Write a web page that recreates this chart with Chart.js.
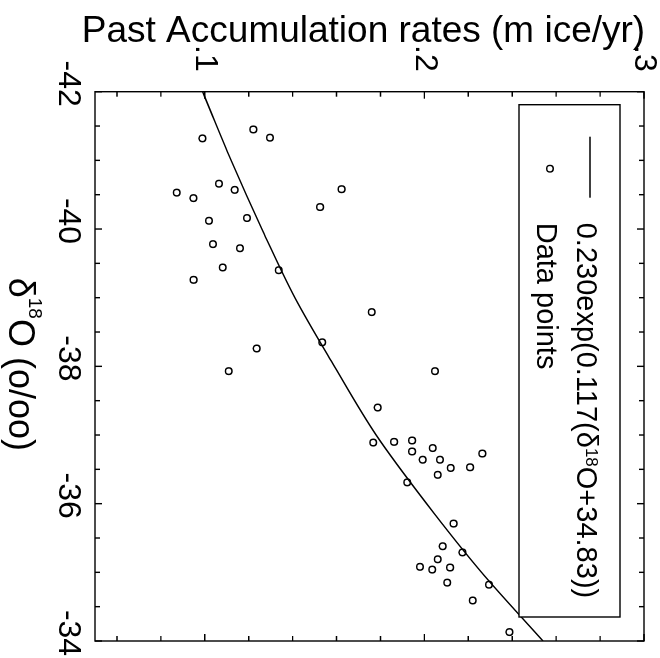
<!DOCTYPE html>
<html>
<head>
<meta charset="utf-8">
<script src="https://cdn.jsdelivr.net/npm/chart.js@4.4.1/dist/chart.umd.min.js"></script>
<style>
  html, body { margin: 0; padding: 0; background: #fff; overflow: hidden; }
  /* the plot is drawn upright and then turned a quarter turn clockwise */
  #wrap { position: absolute; left: 0; top: 0; width: 658px; height: 660px;
          transform-origin: 0 0; transform: translate(660px, 0) rotate(90deg); }
  canvas { display: block; }
</style>
</head>
<body>
<div id="wrap"><canvas id="chart" width="658" height="660"></canvas></div>
<script>
// measured points: d18O (o/oo) and accumulation (m ice/yr)
const d18O = [-41.32, -41.45, -41.33, -40.66, -40.57, -40.53, -40.45, -40.58, -40.32, -40.12,
  -40.16, -39.78, -39.72, -39.44, -39.26, -39.40, -38.79, -38.35, -37.93, -37.40,
  -36.89, -36.90, -36.92, -36.76, -36.81, -36.73, -36.64, -36.64, -36.52, -36.53,
  -36.42, -38.26, -37.93, -36.31, -35.71, -35.38, -35.29, -35.19, -35.08, -35.04,
  -35.07, -34.85, -34.82, -34.59, -34.13, -34.84];
const accum = [0.0989, 0.1221, 0.1297, 0.1065, 0.1136, 0.0872, 0.0948, 0.1623, 0.1525, 0.1019,
  0.1192, 0.1037, 0.1160, 0.1082, 0.0949, 0.1337, 0.1760, 0.1535, 0.2048, 0.1787,
  0.1767, 0.1862, 0.1944, 0.1944, 0.2038, 0.2264, 0.1992, 0.2071, 0.2120, 0.2208,
  0.2061, 0.1236, 0.1109, 0.1922, 0.2133, 0.2083, 0.2173, 0.2061, 0.1980, 0.2036,
  0.2117, 0.2104, 0.2294, 0.2220, 0.2387, 0.2449];

// fitted curve at whole per-mil steps
const fitD18O = [-42, -41, -40, -39, -38, -37, -36, -35, -34];
const fitAccum = [0.099, 0.112, 0.126, 0.141, 0.159, 0.178, 0.201, 0.226, 0.254];

// labelled ticks
const xLabelValues = [-42, -40, -38, -36, -34];
const yLabelValues = [0.1, 0.2, 0.3];
const yLabelText = ['.1', '.2', '.3'];

const yTitle = 'Past Accumulation rates (m ice/yr)';

const FONT = "'Liberation Sans', Arial, Helvetica, sans-serif";

function findLabel(values, v) {
  return values.findIndex(l => Math.abs(l - v) < 1e-6);
}

// draws text made of pieces, some of them raised (superscripts)
function drawParts(ctx, x, y, parts, align) {
  let total = 0;
  parts.forEach(p => {
    ctx.font = p.size + 'px ' + FONT;
    p.w = ctx.measureText(p.t).width;
    total += p.w;
  });
  if (align === 'center') x -= total / 2;
  ctx.textAlign = 'left';
  ctx.textBaseline = 'alphabetic';
  parts.forEach(p => {
    ctx.font = p.size + 'px ' + FONT;
    ctx.fillText(p.t, x, y - (p.rise || 0));
    x += p.w;
  });
}

const framePlugin = {
  id: 'frame',
  afterDatasetsDraw(chart) {
    const { ctx, chartArea: a, scales: { x, y } } = chart;
    ctx.save();
    ctx.strokeStyle = '#000';
    ctx.fillStyle = '#000';
    ctx.lineWidth = 1.4;

    // legend box inside the plot
    const lx = a.left + 13, ly = a.top + 24, lw = a.right - 24 - lx, lh = 101;
    ctx.fillStyle = '#fff';
    ctx.fillRect(lx, ly, lw, lh);
    ctx.strokeRect(lx, ly, lw, lh);
    ctx.fillStyle = '#000';
    ctx.beginPath();
    ctx.moveTo(a.left + 45, a.top + 54);
    ctx.lineTo(a.left + 106, a.top + 54);
    ctx.stroke();
    drawParts(ctx, a.left + 131, a.top + 67, [
      { t: '0.230exp(0.117(\u03b4', size: 29 },
      { t: '18', size: 17, rise: 9 },
      { t: 'O+34.83))', size: 29 }
    ]);
    ctx.beginPath();
    ctx.arc(a.left + 77, a.top + 94, 3.3, 0, Math.PI * 2);
    ctx.stroke();
    drawParts(ctx, a.left + 131, a.top + 107, [{ t: 'Data points', size: 29 }]);

    // frame and inward ticks on all four sides
    ctx.strokeRect(a.left, a.top, a.right - a.left, a.bottom - a.top);
    ctx.beginPath();
    x.ticks.forEach(t => {
      const px = x.getPixelForValue(t.value);
      const len = findLabel(xLabelValues, t.value) >= 0 ? 7 : 5;
      ctx.moveTo(px, a.bottom); ctx.lineTo(px, a.bottom - len);
      ctx.moveTo(px, a.top); ctx.lineTo(px, a.top + len);
    });
    y.ticks.forEach(t => {
      const py = y.getPixelForValue(t.value);
      const len = findLabel(yLabelValues, t.value) >= 0 ? 7 : 5;
      ctx.moveTo(a.left, py); ctx.lineTo(a.left + len, py);
      ctx.moveTo(a.right, py); ctx.lineTo(a.right - len, py);
    });
    ctx.stroke();

    // x axis title with superscript
    drawParts(ctx, (a.left + a.right) / 2 - 2, a.bottom + 86, [
      { t: '\u03b4', size: 36 },
      { t: '18', size: 19, rise: 20 },
      { t: 'O (o/oo)', size: 36 }
    ], 'center');

    // y axis title, reading upwards
    ctx.translate(42, (a.top + a.bottom) / 2 + 6);
    ctx.rotate(-Math.PI / 2);
    drawParts(ctx, 0, 0, [{ t: yTitle, size: 37 }], 'center');
    ctx.restore();
  }
};

new Chart(document.getElementById('chart'), {
  type: 'scatter',
  data: {
    datasets: [
      {
        label: '0.230exp(0.117(\u03b418O+34.83))',
        data: fitD18O.map((d, i) => ({ x: d, y: fitAccum[i] })),
        showLine: true,
        borderColor: '#000',
        borderWidth: 1.5,
        pointRadius: 0,
        cubicInterpolationMode: 'monotone',
        fill: false
      },
      {
        label: 'Data points',
        data: d18O.map((d, i) => ({ x: d, y: accum[i] })),
        pointStyle: 'circle',
        pointRadius: 3.3,
        borderWidth: 1.5,
        borderColor: '#000',
        backgroundColor: 'rgba(0,0,0,0)'
      }
    ]
  },
  options: {
    responsive: false,
    devicePixelRatio: 1,
    animation: false,
    events: [],
    layout: { autoPadding: false, padding: { left: 0, right: 17, top: 16, bottom: 0 } },
    plugins: { legend: { display: false }, tooltip: { enabled: false } },
    scales: {
      x: {
        type: 'linear',
        min: -42,
        max: -34,
        afterBuildTicks: s => {
          const t = [];
          for (let i = 0; i <= 16; i++) t.push({ value: -42 + i * 0.5 });
          s.ticks = t;
        },
        afterFit: s => { s.height = 95; s.paddingLeft = 0; s.paddingRight = 0; },
        grid: { display: false, drawTicks: false },
        border: { display: false },
        ticks: {
          autoSkip: false,
          maxRotation: 0,
          padding: 8,
          labelOffset: -8,
          color: '#000',
          font: { family: FONT, size: 32 },
          callback: v => {
            const i = findLabel(xLabelValues, v);
            return i < 0 ? '' : String(xLabelValues[i]);
          }
        }
      },
      y: {
        type: 'linear',
        min: 0.05,
        max: 0.30,
        afterBuildTicks: s => {
          const t = [];
          for (let i = 0; i <= 12; i++) t.push({ value: 0.06 + i * 0.02 });
          s.ticks = t;
        },
        afterFit: s => { s.width = 91.7; s.paddingTop = 0; s.paddingBottom = 0; },
        grid: { display: false, drawTicks: false },
        border: { display: false },
        ticks: {
          autoSkip: false,
          padding: 20,
          color: '#000',
          font: { family: FONT, size: 32 },
          callback: v => {
            const i = findLabel(yLabelValues, v);
            return i < 0 ? '' : yLabelText[i];
          }
        }
      }
    }
  },
  plugins: [framePlugin]
});
</script>
</body>
</html>
